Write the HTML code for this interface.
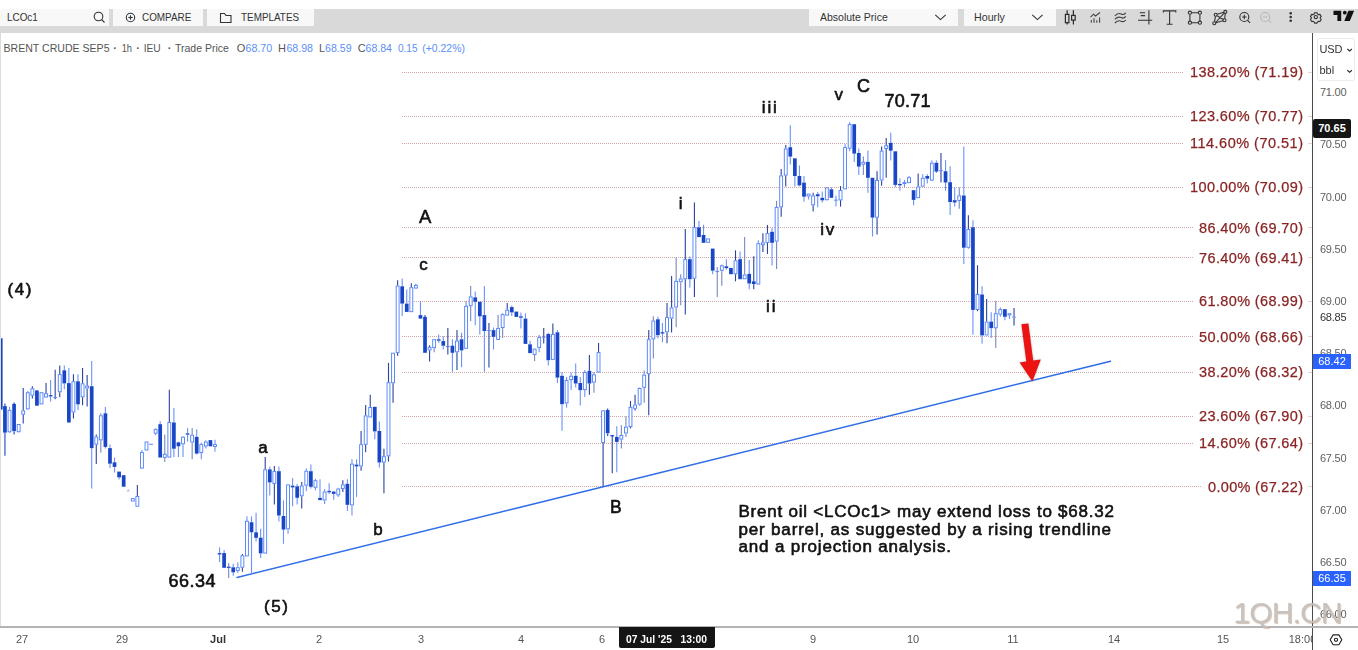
<!DOCTYPE html>
<html><head><meta charset="utf-8"><title>chart</title>
<style>
*{margin:0;padding:0;box-sizing:border-box}
html,body{width:1358px;height:650px;overflow:hidden;background:#fff;font-family:"Liberation Sans",sans-serif}
#wrap{position:relative;width:1358px;height:650px;overflow:hidden;background:#fff}
#tb{position:absolute;left:0;top:8.75px;width:1358px;height:24px;background:#d9d9d9}
.btn span{display:inline-block;transform:scaleX(0.9);transform-origin:0 50%}
.btn{position:absolute;top:0;height:17.5px;background:#f8f8f8;font-size:11px;color:#333;line-height:17px;white-space:nowrap}
#legend{position:absolute;left:3px;top:40px;font-size:11px;line-height:14px;color:#555;white-space:pre}
.lg text{font-family:"Liberation Sans",sans-serif;font-size:11px;fill:#555} .lg g text{fill:#5a8ffa}
#chart{position:absolute;left:0;top:0;will-change:transform}
.fib{font-family:"Liberation Sans",sans-serif;font-size:14.5px;fill:#8a2424;stroke:#8a2424;stroke-width:0.25px}
.lb{font-family:"Liberation Sans",sans-serif;font-weight:normal;fill:#111;stroke:#111;stroke-width:0.6px;stroke-linejoin:round}
#pax{position:absolute;left:1312px;top:33px;width:1px;height:617px;background:#4a4a4a}
#tax{position:absolute;left:0;top:626px;width:1358px;height:2px;background:#b4b4b4}
#leftb{position:absolute;left:0;top:33px;width:1px;height:594px;background:#dcdcdc}
.pl{position:absolute;left:1320px;width:30px;font-size:11px;line-height:14px;color:#606060;letter-spacing:-0.25px}
.tl{position:absolute;top:632px;width:40px;text-align:center;font-size:11px;line-height:14px;color:#555}
.tag{position:absolute;left:1313px;width:38px;color:#fff;font-weight:bold;font-size:11px;text-align:center}
#unit{position:absolute;left:1316.5px;top:37.5px;width:38px;height:43px;border:1px solid #ececec;border-radius:3px;background:#fff;font-size:11px;color:#333}
#wm{z-index:20;opacity:.9;position:absolute;left:1233.5px;top:596.5px;font-size:30px;line-height:32px;color:#c2bdb8;letter-spacing:-0.9px;text-shadow:1px 1px 1px rgba(170,130,100,.55);white-space:nowrap}
</style></head><body><div id="wrap">
<div id="tb">
 <div class="btn" style="left:0;width:109px;padding-left:7px"><span>LCOc1</span></div>
 <div class="btn" style="left:113px;width:90px;padding-left:29px"><span>COMPARE</span></div>
 <div class="btn" style="left:207px;width:107px;padding-left:34px"><span>TEMPLATES</span></div>
 <div class="btn" style="left:808.5px;width:149.5px;padding-left:11px"><span style="transform:scaleX(0.955)">Absolute Price</span></div>
 <div class="btn" style="left:963.5px;width:92.5px;padding-left:10.5px"><span style="transform:scaleX(0.97)">Hourly</span></div>
</div>
<svg id="icons" width="1358" height="34" style="position:absolute;left:0;top:0" fill="none" stroke="#333" stroke-width="1.1">
 <circle cx="98.500" cy="16.500" r="4.300"/><line x1="101.700" y1="19.700" x2="104.500" y2="22.500"/>
 <circle cx="130.500" cy="17.500" r="4.200"/><line x1="128.300" y1="17.500" x2="132.700" y2="17.500"/><line x1="130.500" y1="15.300" x2="130.500" y2="19.700"/>
 <path d="M220.500 22.500v-9h4l1.500 2h5v7z"/>
 <path d="M935.300 14.800l5.200 4.800 5.200-4.800"/>
 <path d="M1032.200 14.800l5.200 4.800 5.200-4.800"/>
 <g stroke="#2a2a2a" stroke-width="1.200">
 <rect x="1065.400" y="14.400" width="3.500" height="8.300"/><path d="M1067.150 10.300v4.100M1067.150 22.700v1.700"/>
 <rect x="1071.600" y="15.400" width="3.600" height="4.700"/><path d="M1073.400 10.300v5.100M1073.400 20.100v4.300"/>
 </g>
 <g stroke="#444" stroke-width="1.100">
 <path d="M1090.500 17.200l3-3 2 1.800 4.500-3.500"/><path d="M1091.300 20v2.700M1094 18.300v4.400M1096.800 20.200v2.500M1099.600 17.500v5.200"/>
 <path d="M1114.800 15.800c3-2.800 4.500-2.800 6.300-1.800s3 .8 4.800-1.200M1114.800 19.400c3-2.800 4.500-2.800 6.300-1.800s3 .8 4.800-1.200M1114.800 23c3-2.800 4.500-2.800 6.300-1.800s3 .8 4.800-1.200"/>
 </g>
 <g stroke="#333" stroke-width="1.100">
 <path d="M1138 20.300h14.200M1148.900 10.300v14.100M1139.800 12.700h5.300M1140.800 15.600h4.300"/>
 <path d="M1163.400 12.400v-1.500h12.400v1.500M1169.600 10.900v13.200M1166.700 24.200h5.900"/>
 <path d="M1191.600 12.700h6.600M1191.600 22.700h6.600M1189.900 14.400v6.600M1199.900 14.400v6.600"/>
 <circle cx="1189.900" cy="12.700" r="1.600"/><circle cx="1199.900" cy="12.700" r="1.600"/><circle cx="1189.900" cy="22.700" r="1.600"/><circle cx="1199.900" cy="22.700" r="1.600"/>
 <path d="M1217.300 14.300l6.400-2M1225.200 13.400l-.5 5.300M1223 20.800l-7.200 2M1214.500 21.700l1-5.400M1217 15.700l6.400 3.800M1215.700 22.500l8.600-9.600"/>
 <circle cx="1215.700" cy="14.800" r="1.500"/><circle cx="1225.300" cy="11.900" r="1.500"/><circle cx="1224.500" cy="20.300" r="1.500"/><circle cx="1214.300" cy="23.200" r="1.500"/>
 <circle cx="1244.300" cy="17" r="4.500"/><path d="M1247.600 20.300l2.500 2.600M1242.100 17h4.400M1244.300 14.800v4.400"/>
 </g>
 <g stroke="#b9b9b9" stroke-width="1.100"><circle cx="1265.200" cy="17" r="4.500"/><path d="M1268.500 20.300l2.500 2.600M1263 17h4.400"/></g>
 <g fill="#333" stroke="none"><circle cx="1290.700" cy="13.200" r="1.300"/><circle cx="1290.700" cy="17" r="1.300"/><circle cx="1290.700" cy="20.700" r="1.300"/></g>
 <g stroke="#333" stroke-width="1.300" transform="translate(1315.8 17.1) scale(0.83) translate(-1315.8 -17.1)"><circle cx="1315.800" cy="17.100" r="2"/>
 <path d="M1314.300 11.900h3l.5 1.500 1.500.8 1.500-.4 1.500 2.600-1.100 1.100v1.300l1.100 1.100-1.500 2.600-1.500-.4-1.500.8-.5 1.500h-3l-.5-1.500-1.500-.8-1.500.4-1.500-2.600 1.100-1.100v-1.300l-1.100-1.100 1.500-2.600 1.500.4 1.500-.8z" stroke-linejoin="round"/></g>
 <g fill="#111" stroke="none"><path d="M1333.500 10.700h7.700v10.200h-3.800v-5.900h-3.900z"/><circle cx="1344.800" cy="12.700" r="1.900"/><path d="M1348.400 10.700h5.700l-4.300 10.200h-5.500z"/></g>
</svg>
<svg id="legend" width="480" height="20" style="position:absolute;left:0;top:38px">
<g class="lg">
<text x="3.500" y="14" textLength="106" lengthAdjust="spacingAndGlyphs">BRENT CRUDE SEP5</text>
<text x="113.200" y="14" font-weight="bold">·</text><text x="121.700" y="14" textLength="10.300" lengthAdjust="spacingAndGlyphs">1h</text>
<text x="136.200" y="14" font-weight="bold">·</text><text x="143.700" y="14" textLength="17" lengthAdjust="spacingAndGlyphs">IEU</text>
<text x="167.700" y="14" font-weight="bold">·</text><text x="175" y="14" textLength="53.800" lengthAdjust="spacingAndGlyphs">Trade Price</text>
<text x="236.700" y="14">O</text><text x="277.900" y="14">H</text><text x="319" y="14">L</text><text x="357.700" y="14">C</text>
<g fill="#5a8ffa"><text x="245.600" y="14" textLength="26.600" lengthAdjust="spacingAndGlyphs">68.70</text>
<text x="286.400" y="14" textLength="26.600" lengthAdjust="spacingAndGlyphs">68.98</text>
<text x="325" y="14" textLength="26.600" lengthAdjust="spacingAndGlyphs">68.59</text>
<text x="365.600" y="14" textLength="26.400" lengthAdjust="spacingAndGlyphs">68.84</text>
<text x="397.900" y="14" textLength="19.600" lengthAdjust="spacingAndGlyphs">0.15</text>
<text x="422.300" y="14" textLength="42.600" lengthAdjust="spacingAndGlyphs">(+0.22%)</text></g>
</g></svg>
<svg id="chart" width="1313" height="627" viewBox="0 0 1313 627">
<line x1="402" y1="72.5" x2="1183" y2="72.5" stroke="#d6a5a5" stroke-width="1" stroke-dasharray="1 1"/>
<line x1="1308.5" y1="72.5" x2="1312" y2="72.5" stroke="#d6a5a5" stroke-width="1" stroke-dasharray="1 1"/>
<text x="1303" y="77.1" text-anchor="end" class="fib" textLength="113" lengthAdjust="spacing">138.20% (71.19)</text>
<line x1="402" y1="116.5" x2="1183" y2="116.5" stroke="#d6a5a5" stroke-width="1" stroke-dasharray="1 1"/>
<line x1="1308.5" y1="116.5" x2="1312" y2="116.5" stroke="#d6a5a5" stroke-width="1" stroke-dasharray="1 1"/>
<text x="1303" y="120.9" text-anchor="end" class="fib" textLength="113" lengthAdjust="spacing">123.60% (70.77)</text>
<line x1="402" y1="143.5" x2="1183" y2="143.5" stroke="#d6a5a5" stroke-width="1" stroke-dasharray="1 1"/>
<line x1="1308.5" y1="143.5" x2="1312" y2="143.5" stroke="#d6a5a5" stroke-width="1" stroke-dasharray="1 1"/>
<text x="1303" y="147.9" text-anchor="end" class="fib" textLength="113" lengthAdjust="spacing">114.60% (70.51)</text>
<line x1="402" y1="187.5" x2="1183" y2="187.5" stroke="#d6a5a5" stroke-width="1" stroke-dasharray="1 1"/>
<line x1="1308.5" y1="187.5" x2="1312" y2="187.5" stroke="#d6a5a5" stroke-width="1" stroke-dasharray="1 1"/>
<text x="1303" y="191.7" text-anchor="end" class="fib" textLength="113" lengthAdjust="spacing">100.00% (70.09)</text>
<line x1="402" y1="227.5" x2="1193.5" y2="227.5" stroke="#d6a5a5" stroke-width="1" stroke-dasharray="1 1"/>
<line x1="1308.5" y1="227.5" x2="1312" y2="227.5" stroke="#d6a5a5" stroke-width="1" stroke-dasharray="1 1"/>
<text x="1303" y="232.5" text-anchor="end" class="fib" textLength="104" lengthAdjust="spacing">86.40% (69.70)</text>
<line x1="402" y1="257.5" x2="1193.5" y2="257.5" stroke="#d6a5a5" stroke-width="1" stroke-dasharray="1 1"/>
<line x1="1308.5" y1="257.5" x2="1312" y2="257.5" stroke="#d6a5a5" stroke-width="1" stroke-dasharray="1 1"/>
<text x="1303" y="262.5" text-anchor="end" class="fib" textLength="104" lengthAdjust="spacing">76.40% (69.41)</text>
<line x1="402" y1="301.5" x2="1193.5" y2="301.5" stroke="#d6a5a5" stroke-width="1" stroke-dasharray="1 1"/>
<line x1="1308.5" y1="301.5" x2="1312" y2="301.5" stroke="#d6a5a5" stroke-width="1" stroke-dasharray="1 1"/>
<text x="1303" y="306.3" text-anchor="end" class="fib" textLength="104" lengthAdjust="spacing">61.80% (68.99)</text>
<line x1="402" y1="336.5" x2="1193.5" y2="336.5" stroke="#d6a5a5" stroke-width="1" stroke-dasharray="1 1"/>
<line x1="1308.5" y1="336.5" x2="1312" y2="336.5" stroke="#d6a5a5" stroke-width="1" stroke-dasharray="1 1"/>
<text x="1303" y="341.7" text-anchor="end" class="fib" textLength="104" lengthAdjust="spacing">50.00% (68.66)</text>
<line x1="402" y1="372.5" x2="1193.5" y2="372.5" stroke="#d6a5a5" stroke-width="1" stroke-dasharray="1 1"/>
<line x1="1308.5" y1="372.5" x2="1312" y2="372.5" stroke="#d6a5a5" stroke-width="1" stroke-dasharray="1 1"/>
<text x="1303" y="377.1" text-anchor="end" class="fib" textLength="104" lengthAdjust="spacing">38.20% (68.32)</text>
<line x1="402" y1="416.5" x2="1193.5" y2="416.5" stroke="#d6a5a5" stroke-width="1" stroke-dasharray="1 1"/>
<line x1="1308.5" y1="416.5" x2="1312" y2="416.5" stroke="#d6a5a5" stroke-width="1" stroke-dasharray="1 1"/>
<text x="1303" y="420.9" text-anchor="end" class="fib" textLength="104" lengthAdjust="spacing">23.60% (67.90)</text>
<line x1="402" y1="443.5" x2="1193.5" y2="443.5" stroke="#d6a5a5" stroke-width="1" stroke-dasharray="1 1"/>
<line x1="1308.5" y1="443.5" x2="1312" y2="443.5" stroke="#d6a5a5" stroke-width="1" stroke-dasharray="1 1"/>
<text x="1303" y="447.9" text-anchor="end" class="fib" textLength="104" lengthAdjust="spacing">14.60% (67.64)</text>
<line x1="402" y1="486.5" x2="1201" y2="486.5" stroke="#d6a5a5" stroke-width="1" stroke-dasharray="1 1"/>
<line x1="1308.5" y1="486.5" x2="1312" y2="486.5" stroke="#d6a5a5" stroke-width="1" stroke-dasharray="1 1"/>
<text x="1303" y="491.7" text-anchor="end" class="fib" textLength="95" lengthAdjust="spacing">0.00% (67.22)</text>
<line x1="237" y1="577.4" x2="1110.5" y2="361.2" stroke="#2f6ce9" stroke-width="1.5" stroke-linecap="round"/>
<line x1="1.8" y1="338.3" x2="1.8" y2="409.6" stroke="#1846c6" stroke-width="1.6"/>
<line x1="4.95" y1="403.4" x2="4.95" y2="406.1" stroke="#1846c6" stroke-width="1.1"/>
<line x1="4.95" y1="432.6" x2="4.95" y2="455.7" stroke="#1846c6" stroke-width="1.1"/>
<rect x="3.10" y="406.1" width="3.7" height="26.5" fill="#1846c6"/>
<line x1="9.52" y1="406.9" x2="9.52" y2="409.9" stroke="#6a92fb" stroke-width="1.1"/>
<line x1="9.52" y1="432.2" x2="9.52" y2="432.9" stroke="#6a92fb" stroke-width="1.1"/>
<rect x="8.07" y="410.3" width="2.9" height="21.5" fill="#fff" stroke="#4c7efa" stroke-width="0.9"/>
<line x1="14.08" y1="402.5" x2="14.08" y2="403.9" stroke="#1846c6" stroke-width="1.1"/>
<line x1="14.08" y1="431.2" x2="14.08" y2="434.4" stroke="#1846c6" stroke-width="1.1"/>
<rect x="12.23" y="403.9" width="3.7" height="27.2" fill="#1846c6"/>
<rect x="17.20" y="424.5" width="2.9" height="7.3" fill="#fff" stroke="#4c7efa" stroke-width="0.9"/>
<line x1="23.21" y1="388.0" x2="23.21" y2="410.5" stroke="#2a439c" stroke-width="1.1"/>
<line x1="23.21" y1="414.5" x2="23.21" y2="423.4" stroke="#2a439c" stroke-width="1.1"/>
<rect x="21.76" y="410.9" width="2.9" height="3.3" fill="#fff" stroke="#4c7efa" stroke-width="0.9"/>
<line x1="27.78" y1="391.0" x2="27.78" y2="392.3" stroke="#6a92fb" stroke-width="1.1"/>
<line x1="27.78" y1="409.2" x2="27.78" y2="409.6" stroke="#6a92fb" stroke-width="1.1"/>
<rect x="26.33" y="392.7" width="2.9" height="16.2" fill="#fff" stroke="#4c7efa" stroke-width="0.9"/>
<line x1="32.35" y1="386.2" x2="32.35" y2="388.4" stroke="#2a439c" stroke-width="1.1"/>
<line x1="32.35" y1="395.4" x2="32.35" y2="398.6" stroke="#2a439c" stroke-width="1.1"/>
<rect x="30.90" y="388.8" width="2.9" height="6.3" fill="#fff" stroke="#4c7efa" stroke-width="0.9"/>
<line x1="36.91" y1="390.1" x2="36.91" y2="390.5" stroke="#1846c6" stroke-width="1.1"/>
<rect x="35.06" y="390.5" width="3.7" height="15.2" fill="#1846c6"/>
<rect x="40.03" y="392.7" width="2.9" height="11.2" fill="#fff" stroke="#4c7efa" stroke-width="0.9"/>
<line x1="46.04" y1="383.1" x2="46.04" y2="393.3" stroke="#2a439c" stroke-width="1.1"/>
<rect x="44.59" y="393.7" width="2.9" height="3.4" fill="#fff" stroke="#4c7efa" stroke-width="0.9"/>
<line x1="50.61" y1="379.9" x2="50.61" y2="395.1" stroke="#6a92fb" stroke-width="1.1"/>
<line x1="50.61" y1="396.0" x2="50.61" y2="401.6" stroke="#6a92fb" stroke-width="1.1"/>
<rect x="48.76" y="395.1" width="3.7" height="1.3" fill="#1846c6"/>
<line x1="55.18" y1="369.8" x2="55.18" y2="397.2" stroke="#2a439c" stroke-width="1.1"/>
<line x1="55.18" y1="397.9" x2="55.18" y2="399.3" stroke="#2a439c" stroke-width="1.1"/>
<line x1="53.38" y1="397.6" x2="56.98" y2="397.6" stroke="#4c7efa" stroke-width="1"/>
<line x1="59.74" y1="365.4" x2="59.74" y2="374.2" stroke="#2a439c" stroke-width="1.1"/>
<line x1="59.74" y1="392.3" x2="59.74" y2="397.2" stroke="#2a439c" stroke-width="1.1"/>
<rect x="58.29" y="374.6" width="2.9" height="17.2" fill="#fff" stroke="#4c7efa" stroke-width="0.9"/>
<line x1="64.31" y1="365.4" x2="64.31" y2="370.3" stroke="#6a92fb" stroke-width="1.1"/>
<line x1="64.31" y1="383.4" x2="64.31" y2="389.3" stroke="#6a92fb" stroke-width="1.1"/>
<rect x="62.46" y="370.3" width="3.7" height="13.1" fill="#1846c6"/>
<line x1="68.87" y1="368.0" x2="68.87" y2="383.1" stroke="#6a92fb" stroke-width="1.1"/>
<rect x="67.02" y="383.1" width="3.7" height="39.4" fill="#1846c6"/>
<line x1="73.44" y1="374.2" x2="73.44" y2="381.3" stroke="#2a439c" stroke-width="1.1"/>
<line x1="73.44" y1="412.4" x2="73.44" y2="418.4" stroke="#2a439c" stroke-width="1.1"/>
<rect x="71.99" y="381.7" width="2.9" height="30.3" fill="#fff" stroke="#4c7efa" stroke-width="0.9"/>
<line x1="78.01" y1="374.2" x2="78.01" y2="381.3" stroke="#6a92fb" stroke-width="1.1"/>
<line x1="78.01" y1="404.3" x2="78.01" y2="409.9" stroke="#6a92fb" stroke-width="1.1"/>
<rect x="76.16" y="381.3" width="3.7" height="23.0" fill="#1846c6"/>
<line x1="82.57" y1="368.0" x2="82.57" y2="383.4" stroke="#2a439c" stroke-width="1.1"/>
<line x1="82.57" y1="397.2" x2="82.57" y2="405.2" stroke="#2a439c" stroke-width="1.1"/>
<rect x="81.12" y="383.8" width="2.9" height="13.0" fill="#fff" stroke="#4c7efa" stroke-width="0.9"/>
<line x1="87.14" y1="375.1" x2="87.14" y2="385.7" stroke="#2a439c" stroke-width="1.1"/>
<line x1="87.14" y1="388.4" x2="87.14" y2="406.4" stroke="#2a439c" stroke-width="1.1"/>
<rect x="85.69" y="386.1" width="2.9" height="1.9" fill="#fff" stroke="#4c7efa" stroke-width="0.9"/>
<line x1="91.70" y1="361.0" x2="91.70" y2="386.2" stroke="#6a92fb" stroke-width="1.1"/>
<line x1="91.70" y1="448.1" x2="91.70" y2="488.4" stroke="#6a92fb" stroke-width="1.1"/>
<rect x="89.85" y="386.2" width="3.7" height="61.9" fill="#1846c6"/>
<line x1="96.27" y1="434.5" x2="96.27" y2="436.6" stroke="#2a439c" stroke-width="1.1"/>
<line x1="96.27" y1="444.6" x2="96.27" y2="464.0" stroke="#2a439c" stroke-width="1.1"/>
<rect x="94.82" y="437.0" width="2.9" height="7.2" fill="#fff" stroke="#4c7efa" stroke-width="0.9"/>
<line x1="100.84" y1="413.3" x2="100.84" y2="415.4" stroke="#7787bd" stroke-width="1.1"/>
<line x1="100.84" y1="440.3" x2="100.84" y2="452.7" stroke="#7787bd" stroke-width="1.1"/>
<rect x="99.39" y="415.8" width="2.9" height="24.1" fill="#fff" stroke="#4c7efa" stroke-width="0.9"/>
<line x1="105.40" y1="407.1" x2="105.40" y2="413.3" stroke="#6a92fb" stroke-width="1.1"/>
<line x1="105.40" y1="446.9" x2="105.40" y2="448.6" stroke="#6a92fb" stroke-width="1.1"/>
<rect x="103.55" y="413.3" width="3.7" height="33.6" fill="#1846c6"/>
<line x1="109.97" y1="444.6" x2="109.97" y2="448.1" stroke="#6a92fb" stroke-width="1.1"/>
<line x1="109.97" y1="463.7" x2="109.97" y2="468.1" stroke="#6a92fb" stroke-width="1.1"/>
<rect x="108.12" y="448.1" width="3.7" height="15.6" fill="#1846c6"/>
<line x1="114.53" y1="457.5" x2="114.53" y2="462.3" stroke="#6a92fb" stroke-width="1.1"/>
<line x1="114.53" y1="466.9" x2="114.53" y2="472.5" stroke="#6a92fb" stroke-width="1.1"/>
<rect x="112.68" y="462.3" width="3.7" height="4.6" fill="#1846c6"/>
<line x1="119.10" y1="477.5" x2="119.10" y2="479.6" stroke="#6a92fb" stroke-width="1.1"/>
<rect x="117.25" y="471.6" width="3.7" height="5.8" fill="#1846c6"/>
<rect x="121.82" y="475.2" width="3.7" height="11.5" fill="#1846c6"/>
<rect x="131.35" y="498.6" width="2.9" height="2.4" fill="#fff" stroke="#4c7efa" stroke-width="0.9"/>
<line x1="137.36" y1="484.9" x2="137.36" y2="496.0" stroke="#2a439c" stroke-width="1.1"/>
<rect x="135.91" y="496.4" width="2.9" height="9.8" fill="#fff" stroke="#4c7efa" stroke-width="0.9"/>
<line x1="141.93" y1="450.1" x2="141.93" y2="452.2" stroke="#6a92fb" stroke-width="1.1"/>
<rect x="140.48" y="452.6" width="2.9" height="15.5" fill="#fff" stroke="#4c7efa" stroke-width="0.9"/>
<rect x="145.05" y="442.0" width="2.9" height="8.0" fill="#fff" stroke="#4c7efa" stroke-width="0.9"/>
<line x1="149.26" y1="444.3" x2="152.86" y2="444.3" stroke="#4c7efa" stroke-width="1"/>
<line x1="155.63" y1="428.3" x2="155.63" y2="429.2" stroke="#6a92fb" stroke-width="1.1"/>
<line x1="155.63" y1="433.6" x2="155.63" y2="435.0" stroke="#6a92fb" stroke-width="1.1"/>
<rect x="154.18" y="429.6" width="2.9" height="3.6" fill="#fff" stroke="#4c7efa" stroke-width="0.9"/>
<line x1="160.19" y1="421.2" x2="160.19" y2="424.2" stroke="#6a92fb" stroke-width="1.1"/>
<rect x="158.34" y="424.2" width="3.7" height="33.3" fill="#1846c6"/>
<line x1="164.76" y1="434.5" x2="164.76" y2="453.9" stroke="#7787bd" stroke-width="1.1"/>
<line x1="164.76" y1="457.8" x2="164.76" y2="461.9" stroke="#7787bd" stroke-width="1.1"/>
<rect x="163.31" y="454.3" width="2.9" height="3.1" fill="#fff" stroke="#4c7efa" stroke-width="0.9"/>
<line x1="169.33" y1="389.8" x2="169.33" y2="422.1" stroke="#2a439c" stroke-width="1.1"/>
<rect x="167.88" y="422.5" width="2.9" height="34.6" fill="#fff" stroke="#4c7efa" stroke-width="0.9"/>
<line x1="173.89" y1="408.0" x2="173.89" y2="422.5" stroke="#6a92fb" stroke-width="1.1"/>
<line x1="173.89" y1="448.6" x2="173.89" y2="457.0" stroke="#6a92fb" stroke-width="1.1"/>
<rect x="172.04" y="422.5" width="3.7" height="26.2" fill="#1846c6"/>
<line x1="178.46" y1="441.6" x2="178.46" y2="442.4" stroke="#6a92fb" stroke-width="1.1"/>
<line x1="178.46" y1="446.3" x2="178.46" y2="457.0" stroke="#6a92fb" stroke-width="1.1"/>
<rect x="176.61" y="442.4" width="3.7" height="3.9" fill="#1846c6"/>
<line x1="183.02" y1="436.3" x2="183.02" y2="436.8" stroke="#6a92fb" stroke-width="1.1"/>
<line x1="183.02" y1="444.2" x2="183.02" y2="457.0" stroke="#6a92fb" stroke-width="1.1"/>
<rect x="181.57" y="437.2" width="2.9" height="6.6" fill="#fff" stroke="#4c7efa" stroke-width="0.9"/>
<line x1="187.59" y1="427.9" x2="187.59" y2="433.3" stroke="#6a92fb" stroke-width="1.1"/>
<line x1="187.59" y1="434.5" x2="187.59" y2="441.6" stroke="#6a92fb" stroke-width="1.1"/>
<rect x="185.74" y="433.3" width="3.7" height="1.3" fill="#1846c6"/>
<line x1="192.16" y1="427.9" x2="192.16" y2="434.8" stroke="#7787bd" stroke-width="1.1"/>
<line x1="192.16" y1="442.4" x2="192.16" y2="459.3" stroke="#7787bd" stroke-width="1.1"/>
<rect x="190.71" y="435.2" width="2.9" height="6.8" fill="#fff" stroke="#4c7efa" stroke-width="0.9"/>
<line x1="196.72" y1="429.2" x2="196.72" y2="436.8" stroke="#6a92fb" stroke-width="1.1"/>
<line x1="196.72" y1="453.6" x2="196.72" y2="454.5" stroke="#6a92fb" stroke-width="1.1"/>
<rect x="194.87" y="436.8" width="3.7" height="16.8" fill="#1846c6"/>
<line x1="201.29" y1="442.4" x2="201.29" y2="444.2" stroke="#6a92fb" stroke-width="1.1"/>
<line x1="201.29" y1="453.1" x2="201.29" y2="459.3" stroke="#6a92fb" stroke-width="1.1"/>
<rect x="199.84" y="444.6" width="2.9" height="8.0" fill="#fff" stroke="#4c7efa" stroke-width="0.9"/>
<line x1="205.85" y1="440.3" x2="205.85" y2="441.6" stroke="#6a92fb" stroke-width="1.1"/>
<line x1="205.85" y1="446.3" x2="205.85" y2="448.6" stroke="#6a92fb" stroke-width="1.1"/>
<rect x="204.40" y="442.0" width="2.9" height="4.0" fill="#fff" stroke="#4c7efa" stroke-width="0.9"/>
<rect x="208.57" y="440.1" width="3.7" height="6.2" fill="#1846c6"/>
<line x1="214.99" y1="439.8" x2="214.99" y2="444.2" stroke="#6a92fb" stroke-width="1.1"/>
<line x1="214.99" y1="446.9" x2="214.99" y2="451.8" stroke="#6a92fb" stroke-width="1.1"/>
<rect x="213.54" y="444.6" width="2.9" height="1.9" fill="#fff" stroke="#4c7efa" stroke-width="0.9"/>
<line x1="219.55" y1="547.5" x2="219.55" y2="553.1" stroke="#6a92fb" stroke-width="1.1"/>
<line x1="219.55" y1="554.5" x2="219.55" y2="562.0" stroke="#6a92fb" stroke-width="1.1"/>
<rect x="217.70" y="553.1" width="3.7" height="1.4" fill="#1846c6"/>
<line x1="224.12" y1="549.9" x2="224.12" y2="553.1" stroke="#6a92fb" stroke-width="1.1"/>
<rect x="222.27" y="553.1" width="3.7" height="14.7" fill="#1846c6"/>
<line x1="228.68" y1="562.9" x2="228.68" y2="566.6" stroke="#7787bd" stroke-width="1.1"/>
<line x1="228.68" y1="567.3" x2="228.68" y2="577.9" stroke="#7787bd" stroke-width="1.1"/>
<rect x="226.83" y="566.6" width="3.7" height="1.3" fill="#1846c6"/>
<line x1="233.25" y1="563.7" x2="233.25" y2="567.3" stroke="#6a92fb" stroke-width="1.1"/>
<line x1="233.25" y1="572.2" x2="233.25" y2="575.8" stroke="#6a92fb" stroke-width="1.1"/>
<rect x="231.40" y="567.3" width="3.7" height="5.0" fill="#1846c6"/>
<line x1="237.82" y1="562.3" x2="237.82" y2="567.3" stroke="#6a92fb" stroke-width="1.1"/>
<line x1="237.82" y1="570.8" x2="237.82" y2="572.9" stroke="#6a92fb" stroke-width="1.1"/>
<rect x="236.37" y="567.7" width="2.9" height="2.7" fill="#fff" stroke="#4c7efa" stroke-width="0.9"/>
<line x1="242.38" y1="554.0" x2="242.38" y2="555.4" stroke="#2a439c" stroke-width="1.1"/>
<line x1="242.38" y1="567.6" x2="242.38" y2="571.7" stroke="#2a439c" stroke-width="1.1"/>
<rect x="240.93" y="555.8" width="2.9" height="11.4" fill="#fff" stroke="#4c7efa" stroke-width="0.9"/>
<line x1="246.95" y1="516.3" x2="246.95" y2="520.9" stroke="#6a92fb" stroke-width="1.1"/>
<rect x="245.50" y="521.3" width="2.9" height="34.6" fill="#fff" stroke="#4c7efa" stroke-width="0.9"/>
<line x1="251.51" y1="516.3" x2="251.51" y2="522.2" stroke="#6a92fb" stroke-width="1.1"/>
<line x1="251.51" y1="532.3" x2="251.51" y2="574.4" stroke="#6a92fb" stroke-width="1.1"/>
<rect x="249.66" y="522.2" width="3.7" height="10.1" fill="#1846c6"/>
<line x1="256.08" y1="512.8" x2="256.08" y2="532.3" stroke="#6a92fb" stroke-width="1.1"/>
<line x1="256.08" y1="537.7" x2="256.08" y2="541.6" stroke="#6a92fb" stroke-width="1.1"/>
<rect x="254.23" y="532.3" width="3.7" height="5.5" fill="#1846c6"/>
<line x1="260.65" y1="528.7" x2="260.65" y2="537.7" stroke="#6a92fb" stroke-width="1.1"/>
<line x1="260.65" y1="553.5" x2="260.65" y2="557.9" stroke="#6a92fb" stroke-width="1.1"/>
<rect x="258.80" y="537.7" width="3.7" height="15.7" fill="#1846c6"/>
<line x1="265.21" y1="457.0" x2="265.21" y2="469.4" stroke="#2a439c" stroke-width="1.1"/>
<rect x="263.76" y="469.8" width="2.9" height="83.3" fill="#fff" stroke="#4c7efa" stroke-width="0.9"/>
<line x1="269.78" y1="466.4" x2="269.78" y2="469.4" stroke="#6a92fb" stroke-width="1.1"/>
<line x1="269.78" y1="482.4" x2="269.78" y2="495.6" stroke="#6a92fb" stroke-width="1.1"/>
<rect x="267.93" y="469.4" width="3.7" height="13.0" fill="#1846c6"/>
<line x1="274.34" y1="465.9" x2="274.34" y2="471.2" stroke="#2a439c" stroke-width="1.1"/>
<line x1="274.34" y1="483.8" x2="274.34" y2="504.5" stroke="#2a439c" stroke-width="1.1"/>
<rect x="272.89" y="471.6" width="2.9" height="11.8" fill="#fff" stroke="#4c7efa" stroke-width="0.9"/>
<line x1="278.91" y1="466.4" x2="278.91" y2="471.2" stroke="#6a92fb" stroke-width="1.1"/>
<line x1="278.91" y1="515.5" x2="278.91" y2="521.6" stroke="#6a92fb" stroke-width="1.1"/>
<rect x="277.06" y="471.2" width="3.7" height="44.3" fill="#1846c6"/>
<line x1="283.48" y1="500.4" x2="283.48" y2="516.0" stroke="#6a92fb" stroke-width="1.1"/>
<line x1="283.48" y1="529.6" x2="283.48" y2="543.8" stroke="#6a92fb" stroke-width="1.1"/>
<rect x="281.63" y="516.0" width="3.7" height="13.6" fill="#1846c6"/>
<line x1="288.04" y1="529.3" x2="288.04" y2="533.7" stroke="#6a92fb" stroke-width="1.1"/>
<rect x="286.59" y="484.9" width="2.9" height="43.9" fill="#fff" stroke="#4c7efa" stroke-width="0.9"/>
<line x1="292.61" y1="478.0" x2="292.61" y2="485.6" stroke="#6a92fb" stroke-width="1.1"/>
<line x1="292.61" y1="487.3" x2="292.61" y2="506.3" stroke="#6a92fb" stroke-width="1.1"/>
<rect x="290.76" y="485.6" width="3.7" height="1.8" fill="#1846c6"/>
<line x1="297.17" y1="484.1" x2="297.17" y2="486.3" stroke="#6a92fb" stroke-width="1.1"/>
<line x1="297.17" y1="497.8" x2="297.17" y2="504.5" stroke="#6a92fb" stroke-width="1.1"/>
<rect x="295.32" y="486.3" width="3.7" height="11.5" fill="#1846c6"/>
<line x1="301.74" y1="482.0" x2="301.74" y2="485.6" stroke="#2a439c" stroke-width="1.1"/>
<line x1="301.74" y1="496.2" x2="301.74" y2="508.4" stroke="#2a439c" stroke-width="1.1"/>
<rect x="300.29" y="486.0" width="2.9" height="9.8" fill="#fff" stroke="#4c7efa" stroke-width="0.9"/>
<line x1="306.31" y1="468.2" x2="306.31" y2="470.8" stroke="#6a92fb" stroke-width="1.1"/>
<line x1="306.31" y1="485.6" x2="306.31" y2="491.2" stroke="#6a92fb" stroke-width="1.1"/>
<rect x="304.86" y="471.2" width="2.9" height="14.0" fill="#fff" stroke="#4c7efa" stroke-width="0.9"/>
<line x1="310.87" y1="464.6" x2="310.87" y2="471.2" stroke="#6a92fb" stroke-width="1.1"/>
<line x1="310.87" y1="486.8" x2="310.87" y2="488.6" stroke="#6a92fb" stroke-width="1.1"/>
<rect x="309.02" y="471.2" width="3.7" height="15.6" fill="#1846c6"/>
<line x1="315.44" y1="478.8" x2="315.44" y2="480.3" stroke="#6a92fb" stroke-width="1.1"/>
<line x1="315.44" y1="487.7" x2="315.44" y2="490.3" stroke="#6a92fb" stroke-width="1.1"/>
<rect x="313.99" y="480.7" width="2.9" height="6.6" fill="#fff" stroke="#4c7efa" stroke-width="0.9"/>
<line x1="320.00" y1="479.2" x2="320.00" y2="497.9" stroke="#6a92fb" stroke-width="1.1"/>
<line x1="320.00" y1="500.1" x2="320.00" y2="500.4" stroke="#6a92fb" stroke-width="1.1"/>
<rect x="318.15" y="497.9" width="3.7" height="2.1" fill="#1846c6"/>
<line x1="324.57" y1="489.1" x2="324.57" y2="491.6" stroke="#6a92fb" stroke-width="1.1"/>
<line x1="324.57" y1="500.4" x2="324.57" y2="504.0" stroke="#6a92fb" stroke-width="1.1"/>
<rect x="323.12" y="492.0" width="2.9" height="8.0" fill="#fff" stroke="#4c7efa" stroke-width="0.9"/>
<line x1="329.14" y1="483.3" x2="329.14" y2="490.9" stroke="#6a92fb" stroke-width="1.1"/>
<line x1="329.14" y1="492.1" x2="329.14" y2="493.9" stroke="#6a92fb" stroke-width="1.1"/>
<rect x="327.29" y="490.9" width="3.7" height="1.3" fill="#1846c6"/>
<line x1="333.70" y1="490.9" x2="333.70" y2="491.6" stroke="#6a92fb" stroke-width="1.1"/>
<line x1="333.70" y1="493.9" x2="333.70" y2="499.7" stroke="#6a92fb" stroke-width="1.1"/>
<rect x="331.85" y="491.6" width="3.7" height="2.3" fill="#1846c6"/>
<line x1="338.27" y1="487.7" x2="338.27" y2="488.6" stroke="#6a92fb" stroke-width="1.1"/>
<line x1="338.27" y1="495.3" x2="338.27" y2="496.9" stroke="#6a92fb" stroke-width="1.1"/>
<rect x="336.82" y="489.0" width="2.9" height="5.9" fill="#fff" stroke="#4c7efa" stroke-width="0.9"/>
<line x1="342.83" y1="480.3" x2="342.83" y2="484.5" stroke="#2a439c" stroke-width="1.1"/>
<line x1="342.83" y1="488.9" x2="342.83" y2="492.1" stroke="#2a439c" stroke-width="1.1"/>
<rect x="341.38" y="484.9" width="2.9" height="3.6" fill="#fff" stroke="#4c7efa" stroke-width="0.9"/>
<line x1="347.40" y1="479.2" x2="347.40" y2="483.8" stroke="#6a92fb" stroke-width="1.1"/>
<line x1="347.40" y1="504.8" x2="347.40" y2="511.0" stroke="#6a92fb" stroke-width="1.1"/>
<rect x="345.55" y="483.8" width="3.7" height="21.0" fill="#1846c6"/>
<line x1="351.97" y1="459.3" x2="351.97" y2="463.7" stroke="#6a92fb" stroke-width="1.1"/>
<line x1="351.97" y1="505.4" x2="351.97" y2="515.6" stroke="#6a92fb" stroke-width="1.1"/>
<rect x="350.52" y="464.1" width="2.9" height="40.8" fill="#fff" stroke="#4c7efa" stroke-width="0.9"/>
<line x1="356.53" y1="459.3" x2="356.53" y2="464.6" stroke="#6a92fb" stroke-width="1.1"/>
<line x1="356.53" y1="466.4" x2="356.53" y2="496.9" stroke="#6a92fb" stroke-width="1.1"/>
<rect x="354.68" y="464.6" width="3.7" height="1.8" fill="#1846c6"/>
<line x1="361.10" y1="431.0" x2="361.10" y2="444.3" stroke="#2a439c" stroke-width="1.1"/>
<line x1="361.10" y1="466.4" x2="361.10" y2="470.8" stroke="#2a439c" stroke-width="1.1"/>
<rect x="359.65" y="444.7" width="2.9" height="21.3" fill="#fff" stroke="#4c7efa" stroke-width="0.9"/>
<line x1="365.66" y1="405.0" x2="365.66" y2="415.5" stroke="#2a439c" stroke-width="1.1"/>
<line x1="365.66" y1="444.6" x2="365.66" y2="452.2" stroke="#2a439c" stroke-width="1.1"/>
<rect x="364.21" y="415.9" width="2.9" height="28.4" fill="#fff" stroke="#4c7efa" stroke-width="0.9"/>
<line x1="370.23" y1="394.8" x2="370.23" y2="407.1" stroke="#2a439c" stroke-width="1.1"/>
<rect x="368.78" y="407.5" width="2.9" height="9.5" fill="#fff" stroke="#4c7efa" stroke-width="0.9"/>
<line x1="374.80" y1="431.4" x2="374.80" y2="439.3" stroke="#6a92fb" stroke-width="1.1"/>
<rect x="372.95" y="406.8" width="3.7" height="24.6" fill="#1846c6"/>
<line x1="379.36" y1="421.6" x2="379.36" y2="431.0" stroke="#6a92fb" stroke-width="1.1"/>
<line x1="379.36" y1="462.5" x2="379.36" y2="467.6" stroke="#6a92fb" stroke-width="1.1"/>
<rect x="377.51" y="431.0" width="3.7" height="31.5" fill="#1846c6"/>
<line x1="383.93" y1="448.7" x2="383.93" y2="456.3" stroke="#2a439c" stroke-width="1.1"/>
<line x1="383.93" y1="462.5" x2="383.93" y2="493.3" stroke="#2a439c" stroke-width="1.1"/>
<rect x="382.48" y="456.7" width="2.9" height="5.4" fill="#fff" stroke="#4c7efa" stroke-width="0.9"/>
<line x1="388.49" y1="362.9" x2="388.49" y2="382.3" stroke="#2a439c" stroke-width="1.1"/>
<line x1="388.49" y1="456.3" x2="388.49" y2="461.6" stroke="#2a439c" stroke-width="1.1"/>
<rect x="387.04" y="382.7" width="2.9" height="73.2" fill="#fff" stroke="#4c7efa" stroke-width="0.9"/>
<line x1="393.06" y1="383.2" x2="393.06" y2="402.7" stroke="#2a439c" stroke-width="1.1"/>
<rect x="391.61" y="353.2" width="2.9" height="29.6" fill="#fff" stroke="#4c7efa" stroke-width="0.9"/>
<line x1="397.63" y1="280.3" x2="397.63" y2="285.6" stroke="#2a439c" stroke-width="1.1"/>
<line x1="397.63" y1="352.8" x2="397.63" y2="355.8" stroke="#2a439c" stroke-width="1.1"/>
<rect x="396.18" y="286.0" width="2.9" height="66.4" fill="#fff" stroke="#4c7efa" stroke-width="0.9"/>
<line x1="402.19" y1="278.5" x2="402.19" y2="286.3" stroke="#6a92fb" stroke-width="1.1"/>
<line x1="402.19" y1="303.6" x2="402.19" y2="316.0" stroke="#6a92fb" stroke-width="1.1"/>
<rect x="400.34" y="286.3" width="3.7" height="17.3" fill="#1846c6"/>
<line x1="406.76" y1="289.5" x2="406.76" y2="303.6" stroke="#6a92fb" stroke-width="1.1"/>
<rect x="404.91" y="303.6" width="3.7" height="8.3" fill="#1846c6"/>
<line x1="411.32" y1="283.3" x2="411.32" y2="287.3" stroke="#2a439c" stroke-width="1.1"/>
<rect x="409.87" y="287.7" width="2.9" height="24.0" fill="#fff" stroke="#4c7efa" stroke-width="0.9"/>
<line x1="415.89" y1="283.8" x2="415.89" y2="285.0" stroke="#6a92fb" stroke-width="1.1"/>
<rect x="414.44" y="285.4" width="2.9" height="2.7" fill="#fff" stroke="#4c7efa" stroke-width="0.9"/>
<line x1="420.46" y1="301.0" x2="420.46" y2="315.1" stroke="#6a92fb" stroke-width="1.1"/>
<rect x="418.61" y="315.1" width="3.7" height="3.5" fill="#1846c6"/>
<line x1="425.02" y1="315.1" x2="425.02" y2="316.9" stroke="#1846c6" stroke-width="1.1"/>
<rect x="423.17" y="316.9" width="3.7" height="35.9" fill="#1846c6"/>
<line x1="429.59" y1="345.2" x2="429.59" y2="346.9" stroke="#2a439c" stroke-width="1.1"/>
<line x1="429.59" y1="350.5" x2="429.59" y2="361.6" stroke="#2a439c" stroke-width="1.1"/>
<rect x="428.14" y="347.3" width="2.9" height="2.7" fill="#fff" stroke="#4c7efa" stroke-width="0.9"/>
<line x1="434.15" y1="348.2" x2="434.15" y2="352.2" stroke="#7787bd" stroke-width="1.1"/>
<rect x="432.70" y="339.7" width="2.9" height="8.0" fill="#fff" stroke="#4c7efa" stroke-width="0.9"/>
<line x1="438.72" y1="334.6" x2="438.72" y2="339.3" stroke="#6a92fb" stroke-width="1.1"/>
<line x1="438.72" y1="340.7" x2="438.72" y2="342.9" stroke="#6a92fb" stroke-width="1.1"/>
<rect x="436.87" y="339.3" width="3.7" height="1.4" fill="#1846c6"/>
<line x1="443.29" y1="336.3" x2="443.29" y2="341.1" stroke="#6a92fb" stroke-width="1.1"/>
<line x1="443.29" y1="345.7" x2="443.29" y2="349.6" stroke="#6a92fb" stroke-width="1.1"/>
<rect x="441.44" y="341.1" width="3.7" height="4.6" fill="#1846c6"/>
<line x1="447.85" y1="328.0" x2="447.85" y2="346.1" stroke="#2a439c" stroke-width="1.1"/>
<line x1="447.85" y1="346.9" x2="447.85" y2="354.5" stroke="#2a439c" stroke-width="1.1"/>
<line x1="446.05" y1="346.5" x2="449.65" y2="346.5" stroke="#4c7efa" stroke-width="1"/>
<line x1="452.42" y1="339.3" x2="452.42" y2="345.7" stroke="#6a92fb" stroke-width="1.1"/>
<line x1="452.42" y1="352.8" x2="452.42" y2="371.7" stroke="#6a92fb" stroke-width="1.1"/>
<rect x="450.57" y="345.7" width="3.7" height="7.1" fill="#1846c6"/>
<line x1="456.98" y1="330.1" x2="456.98" y2="340.7" stroke="#2a439c" stroke-width="1.1"/>
<line x1="456.98" y1="352.2" x2="456.98" y2="369.9" stroke="#2a439c" stroke-width="1.1"/>
<rect x="455.53" y="341.1" width="2.9" height="10.7" fill="#fff" stroke="#4c7efa" stroke-width="0.9"/>
<line x1="461.55" y1="332.8" x2="461.55" y2="339.3" stroke="#6a92fb" stroke-width="1.1"/>
<line x1="461.55" y1="350.5" x2="461.55" y2="367.3" stroke="#6a92fb" stroke-width="1.1"/>
<rect x="459.70" y="339.3" width="3.7" height="11.1" fill="#1846c6"/>
<line x1="466.12" y1="301.0" x2="466.12" y2="305.9" stroke="#7787bd" stroke-width="1.1"/>
<rect x="464.67" y="306.3" width="2.9" height="42.0" fill="#fff" stroke="#4c7efa" stroke-width="0.9"/>
<line x1="470.68" y1="285.9" x2="470.68" y2="296.5" stroke="#7787bd" stroke-width="1.1"/>
<line x1="470.68" y1="306.3" x2="470.68" y2="320.9" stroke="#7787bd" stroke-width="1.1"/>
<rect x="469.23" y="296.9" width="2.9" height="8.9" fill="#fff" stroke="#4c7efa" stroke-width="0.9"/>
<line x1="475.25" y1="291.6" x2="475.25" y2="297.4" stroke="#6a92fb" stroke-width="1.1"/>
<line x1="475.25" y1="301.8" x2="475.25" y2="325.2" stroke="#6a92fb" stroke-width="1.1"/>
<rect x="473.40" y="297.4" width="3.7" height="4.4" fill="#1846c6"/>
<line x1="479.81" y1="316.3" x2="479.81" y2="334.6" stroke="#6a92fb" stroke-width="1.1"/>
<rect x="477.96" y="301.8" width="3.7" height="14.5" fill="#1846c6"/>
<line x1="484.38" y1="285.9" x2="484.38" y2="315.1" stroke="#6a92fb" stroke-width="1.1"/>
<line x1="484.38" y1="331.0" x2="484.38" y2="371.7" stroke="#6a92fb" stroke-width="1.1"/>
<rect x="482.53" y="315.1" width="3.7" height="15.9" fill="#1846c6"/>
<line x1="488.95" y1="323.1" x2="488.95" y2="330.1" stroke="#2a439c" stroke-width="1.1"/>
<line x1="488.95" y1="331.0" x2="488.95" y2="367.6" stroke="#2a439c" stroke-width="1.1"/>
<line x1="487.15" y1="330.6" x2="490.75" y2="330.6" stroke="#4c7efa" stroke-width="1"/>
<line x1="493.51" y1="327.5" x2="493.51" y2="330.1" stroke="#6a92fb" stroke-width="1.1"/>
<line x1="493.51" y1="336.9" x2="493.51" y2="349.6" stroke="#6a92fb" stroke-width="1.1"/>
<rect x="491.66" y="330.1" width="3.7" height="6.7" fill="#1846c6"/>
<line x1="498.08" y1="315.1" x2="498.08" y2="328.0" stroke="#7787bd" stroke-width="1.1"/>
<rect x="496.63" y="328.4" width="2.9" height="11.1" fill="#fff" stroke="#4c7efa" stroke-width="0.9"/>
<line x1="502.64" y1="313.3" x2="502.64" y2="314.2" stroke="#7787bd" stroke-width="1.1"/>
<line x1="502.64" y1="328.0" x2="502.64" y2="338.1" stroke="#7787bd" stroke-width="1.1"/>
<rect x="501.19" y="314.6" width="2.9" height="13.0" fill="#fff" stroke="#4c7efa" stroke-width="0.9"/>
<line x1="507.21" y1="303.1" x2="507.21" y2="309.8" stroke="#2a439c" stroke-width="1.1"/>
<rect x="505.76" y="310.2" width="2.9" height="4.9" fill="#fff" stroke="#4c7efa" stroke-width="0.9"/>
<line x1="511.78" y1="305.4" x2="511.78" y2="307.1" stroke="#6a92fb" stroke-width="1.1"/>
<line x1="511.78" y1="312.4" x2="511.78" y2="316.0" stroke="#6a92fb" stroke-width="1.1"/>
<rect x="509.93" y="307.1" width="3.7" height="5.3" fill="#1846c6"/>
<rect x="514.49" y="311.6" width="3.7" height="5.3" fill="#1846c6"/>
<line x1="520.91" y1="312.4" x2="520.91" y2="316.3" stroke="#6a92fb" stroke-width="1.1"/>
<line x1="520.91" y1="317.8" x2="520.91" y2="328.4" stroke="#6a92fb" stroke-width="1.1"/>
<rect x="519.06" y="316.3" width="3.7" height="1.4" fill="#1846c6"/>
<line x1="525.47" y1="313.3" x2="525.47" y2="318.6" stroke="#6a92fb" stroke-width="1.1"/>
<rect x="523.62" y="318.6" width="3.7" height="25.3" fill="#1846c6"/>
<line x1="530.04" y1="340.7" x2="530.04" y2="344.3" stroke="#6a92fb" stroke-width="1.1"/>
<rect x="528.19" y="344.3" width="3.7" height="8.8" fill="#1846c6"/>
<line x1="534.61" y1="354.9" x2="534.61" y2="361.1" stroke="#7787bd" stroke-width="1.1"/>
<rect x="533.16" y="349.1" width="2.9" height="5.4" fill="#fff" stroke="#4c7efa" stroke-width="0.9"/>
<line x1="539.17" y1="335.1" x2="539.17" y2="337.2" stroke="#6a92fb" stroke-width="1.1"/>
<line x1="539.17" y1="347.8" x2="539.17" y2="352.2" stroke="#6a92fb" stroke-width="1.1"/>
<rect x="537.72" y="337.6" width="2.9" height="9.8" fill="#fff" stroke="#4c7efa" stroke-width="0.9"/>
<line x1="543.74" y1="328.0" x2="543.74" y2="336.9" stroke="#2a439c" stroke-width="1.1"/>
<line x1="543.74" y1="337.6" x2="543.74" y2="343.4" stroke="#2a439c" stroke-width="1.1"/>
<line x1="541.94" y1="337.2" x2="545.54" y2="337.2" stroke="#4c7efa" stroke-width="1"/>
<line x1="548.30" y1="332.8" x2="548.30" y2="334.0" stroke="#6a92fb" stroke-width="1.1"/>
<line x1="548.30" y1="360.2" x2="548.30" y2="365.5" stroke="#6a92fb" stroke-width="1.1"/>
<rect x="546.45" y="334.0" width="3.7" height="26.2" fill="#1846c6"/>
<line x1="552.87" y1="323.4" x2="552.87" y2="334.0" stroke="#2a439c" stroke-width="1.1"/>
<rect x="551.42" y="334.4" width="2.9" height="25.0" fill="#fff" stroke="#4c7efa" stroke-width="0.9"/>
<line x1="557.44" y1="330.1" x2="557.44" y2="332.3" stroke="#6a92fb" stroke-width="1.1"/>
<line x1="557.44" y1="377.5" x2="557.44" y2="383.0" stroke="#6a92fb" stroke-width="1.1"/>
<rect x="555.59" y="332.3" width="3.7" height="45.3" fill="#1846c6"/>
<line x1="562.00" y1="372.2" x2="562.00" y2="375.8" stroke="#6a92fb" stroke-width="1.1"/>
<line x1="562.00" y1="404.2" x2="562.00" y2="430.7" stroke="#6a92fb" stroke-width="1.1"/>
<rect x="560.15" y="375.8" width="3.7" height="28.4" fill="#1846c6"/>
<line x1="566.57" y1="377.1" x2="566.57" y2="380.0" stroke="#6a92fb" stroke-width="1.1"/>
<line x1="566.57" y1="403.3" x2="566.57" y2="407.7" stroke="#6a92fb" stroke-width="1.1"/>
<rect x="565.12" y="380.4" width="2.9" height="22.5" fill="#fff" stroke="#4c7efa" stroke-width="0.9"/>
<line x1="571.13" y1="372.6" x2="571.13" y2="375.8" stroke="#6a92fb" stroke-width="1.1"/>
<line x1="571.13" y1="380.0" x2="571.13" y2="390.0" stroke="#6a92fb" stroke-width="1.1"/>
<rect x="569.68" y="376.2" width="2.9" height="3.4" fill="#fff" stroke="#4c7efa" stroke-width="0.9"/>
<line x1="575.70" y1="363.4" x2="575.70" y2="375.8" stroke="#6a92fb" stroke-width="1.1"/>
<line x1="575.70" y1="383.5" x2="575.70" y2="387.4" stroke="#6a92fb" stroke-width="1.1"/>
<rect x="573.85" y="375.8" width="3.7" height="7.7" fill="#1846c6"/>
<line x1="580.27" y1="377.1" x2="580.27" y2="383.0" stroke="#6a92fb" stroke-width="1.1"/>
<line x1="580.27" y1="390.0" x2="580.27" y2="405.4" stroke="#6a92fb" stroke-width="1.1"/>
<rect x="578.42" y="383.0" width="3.7" height="7.1" fill="#1846c6"/>
<line x1="584.83" y1="369.9" x2="584.83" y2="372.2" stroke="#6a92fb" stroke-width="1.1"/>
<line x1="584.83" y1="390.0" x2="584.83" y2="397.1" stroke="#6a92fb" stroke-width="1.1"/>
<rect x="583.38" y="372.6" width="2.9" height="17.0" fill="#fff" stroke="#4c7efa" stroke-width="0.9"/>
<line x1="589.40" y1="354.9" x2="589.40" y2="370.8" stroke="#2a439c" stroke-width="1.1"/>
<line x1="589.40" y1="383.5" x2="589.40" y2="394.8" stroke="#2a439c" stroke-width="1.1"/>
<rect x="587.55" y="370.8" width="3.7" height="12.7" fill="#1846c6"/>
<line x1="593.96" y1="372.2" x2="593.96" y2="374.4" stroke="#7787bd" stroke-width="1.1"/>
<line x1="593.96" y1="382.4" x2="593.96" y2="392.7" stroke="#7787bd" stroke-width="1.1"/>
<rect x="592.51" y="374.8" width="2.9" height="7.3" fill="#fff" stroke="#4c7efa" stroke-width="0.9"/>
<line x1="598.53" y1="342.9" x2="598.53" y2="352.2" stroke="#2a439c" stroke-width="1.1"/>
<rect x="597.08" y="352.6" width="2.9" height="19.5" fill="#fff" stroke="#4c7efa" stroke-width="0.9"/>
<line x1="603.10" y1="442.7" x2="603.10" y2="486.4" stroke="#2a439c" stroke-width="1.1"/>
<rect x="601.65" y="410.8" width="2.9" height="31.6" fill="#fff" stroke="#4c7efa" stroke-width="0.9"/>
<line x1="607.66" y1="408.6" x2="607.66" y2="410.0" stroke="#1846c6" stroke-width="1.1"/>
<line x1="607.66" y1="433.4" x2="607.66" y2="436.0" stroke="#1846c6" stroke-width="1.1"/>
<rect x="605.81" y="410.0" width="3.7" height="23.3" fill="#1846c6"/>
<line x1="612.23" y1="435.7" x2="612.23" y2="473.2" stroke="#2a439c" stroke-width="1.1"/>
<rect x="610.38" y="435.1" width="3.7" height="1.3" fill="#1846c6"/>
<line x1="616.79" y1="426.3" x2="616.79" y2="436.9" stroke="#6a92fb" stroke-width="1.1"/>
<line x1="616.79" y1="441.9" x2="616.79" y2="472.3" stroke="#6a92fb" stroke-width="1.1"/>
<rect x="614.94" y="436.9" width="3.7" height="5.0" fill="#1846c6"/>
<line x1="621.36" y1="424.9" x2="621.36" y2="435.1" stroke="#7787bd" stroke-width="1.1"/>
<line x1="621.36" y1="439.6" x2="621.36" y2="448.4" stroke="#7787bd" stroke-width="1.1"/>
<rect x="619.91" y="435.5" width="2.9" height="3.6" fill="#fff" stroke="#4c7efa" stroke-width="0.9"/>
<line x1="625.93" y1="416.4" x2="625.93" y2="426.7" stroke="#7787bd" stroke-width="1.1"/>
<line x1="625.93" y1="433.4" x2="625.93" y2="436.9" stroke="#7787bd" stroke-width="1.1"/>
<rect x="624.48" y="427.1" width="2.9" height="5.9" fill="#fff" stroke="#4c7efa" stroke-width="0.9"/>
<line x1="630.49" y1="401.0" x2="630.49" y2="406.9" stroke="#2a439c" stroke-width="1.1"/>
<line x1="630.49" y1="427.0" x2="630.49" y2="428.4" stroke="#2a439c" stroke-width="1.1"/>
<rect x="629.04" y="407.3" width="2.9" height="19.4" fill="#fff" stroke="#4c7efa" stroke-width="0.9"/>
<line x1="635.06" y1="394.8" x2="635.06" y2="404.6" stroke="#2a439c" stroke-width="1.1"/>
<line x1="635.06" y1="408.6" x2="635.06" y2="410.4" stroke="#2a439c" stroke-width="1.1"/>
<rect x="633.61" y="405.0" width="2.9" height="3.3" fill="#fff" stroke="#4c7efa" stroke-width="0.9"/>
<line x1="639.62" y1="387.4" x2="639.62" y2="388.1" stroke="#6a92fb" stroke-width="1.1"/>
<line x1="639.62" y1="404.6" x2="639.62" y2="405.8" stroke="#6a92fb" stroke-width="1.1"/>
<rect x="638.17" y="388.5" width="2.9" height="15.6" fill="#fff" stroke="#4c7efa" stroke-width="0.9"/>
<line x1="644.19" y1="370.4" x2="644.19" y2="374.8" stroke="#7787bd" stroke-width="1.1"/>
<line x1="644.19" y1="387.8" x2="644.19" y2="402.8" stroke="#7787bd" stroke-width="1.1"/>
<rect x="642.74" y="375.2" width="2.9" height="12.1" fill="#fff" stroke="#4c7efa" stroke-width="0.9"/>
<line x1="648.76" y1="329.9" x2="648.76" y2="339.3" stroke="#2a439c" stroke-width="1.1"/>
<line x1="648.76" y1="374.1" x2="648.76" y2="415.2" stroke="#2a439c" stroke-width="1.1"/>
<rect x="647.31" y="339.7" width="2.9" height="34.0" fill="#fff" stroke="#4c7efa" stroke-width="0.9"/>
<line x1="653.32" y1="316.3" x2="653.32" y2="320.6" stroke="#7787bd" stroke-width="1.1"/>
<line x1="653.32" y1="339.3" x2="653.32" y2="358.6" stroke="#7787bd" stroke-width="1.1"/>
<rect x="651.87" y="321.0" width="2.9" height="17.9" fill="#fff" stroke="#4c7efa" stroke-width="0.9"/>
<line x1="657.89" y1="316.7" x2="657.89" y2="319.3" stroke="#6a92fb" stroke-width="1.1"/>
<line x1="657.89" y1="335.2" x2="657.89" y2="338.2" stroke="#6a92fb" stroke-width="1.1"/>
<rect x="656.04" y="319.3" width="3.7" height="15.9" fill="#1846c6"/>
<line x1="662.45" y1="322.9" x2="662.45" y2="332.2" stroke="#6a92fb" stroke-width="1.1"/>
<line x1="662.45" y1="333.1" x2="662.45" y2="342.3" stroke="#6a92fb" stroke-width="1.1"/>
<rect x="660.60" y="332.2" width="3.7" height="1.3" fill="#1846c6"/>
<line x1="667.02" y1="302.9" x2="667.02" y2="317.2" stroke="#2a439c" stroke-width="1.1"/>
<line x1="667.02" y1="332.2" x2="667.02" y2="343.2" stroke="#2a439c" stroke-width="1.1"/>
<rect x="665.57" y="317.6" width="2.9" height="14.2" fill="#fff" stroke="#4c7efa" stroke-width="0.9"/>
<line x1="671.59" y1="276.0" x2="671.59" y2="307.5" stroke="#2a439c" stroke-width="1.1"/>
<line x1="671.59" y1="318.4" x2="671.59" y2="332.6" stroke="#2a439c" stroke-width="1.1"/>
<rect x="670.14" y="307.9" width="2.9" height="10.2" fill="#fff" stroke="#4c7efa" stroke-width="0.9"/>
<line x1="676.15" y1="257.4" x2="676.15" y2="280.9" stroke="#7787bd" stroke-width="1.1"/>
<line x1="676.15" y1="307.5" x2="676.15" y2="327.3" stroke="#7787bd" stroke-width="1.1"/>
<rect x="674.70" y="281.3" width="2.9" height="25.7" fill="#fff" stroke="#4c7efa" stroke-width="0.9"/>
<line x1="680.72" y1="274.2" x2="680.72" y2="278.6" stroke="#7787bd" stroke-width="1.1"/>
<line x1="680.72" y1="282.2" x2="680.72" y2="305.2" stroke="#7787bd" stroke-width="1.1"/>
<rect x="679.27" y="279.0" width="2.9" height="2.7" fill="#fff" stroke="#4c7efa" stroke-width="0.9"/>
<line x1="685.28" y1="229.1" x2="685.28" y2="259.2" stroke="#2a439c" stroke-width="1.1"/>
<line x1="685.28" y1="279.2" x2="685.28" y2="314.5" stroke="#2a439c" stroke-width="1.1"/>
<rect x="683.83" y="259.6" width="2.9" height="19.2" fill="#fff" stroke="#4c7efa" stroke-width="0.9"/>
<line x1="689.85" y1="256.5" x2="689.85" y2="259.2" stroke="#6a92fb" stroke-width="1.1"/>
<line x1="689.85" y1="279.2" x2="689.85" y2="287.5" stroke="#6a92fb" stroke-width="1.1"/>
<rect x="688.00" y="259.2" width="3.7" height="20.0" fill="#1846c6"/>
<line x1="694.42" y1="202.5" x2="694.42" y2="227.3" stroke="#2a439c" stroke-width="1.1"/>
<line x1="694.42" y1="278.6" x2="694.42" y2="296.9" stroke="#2a439c" stroke-width="1.1"/>
<rect x="692.97" y="227.7" width="2.9" height="50.5" fill="#fff" stroke="#4c7efa" stroke-width="0.9"/>
<line x1="698.98" y1="221.1" x2="698.98" y2="227.3" stroke="#6a92fb" stroke-width="1.1"/>
<rect x="697.13" y="227.3" width="3.7" height="9.8" fill="#1846c6"/>
<line x1="703.55" y1="224.7" x2="703.55" y2="235.0" stroke="#6a92fb" stroke-width="1.1"/>
<rect x="701.70" y="235.0" width="3.7" height="7.8" fill="#1846c6"/>
<rect x="706.66" y="238.9" width="2.9" height="3.4" fill="#fff" stroke="#4c7efa" stroke-width="0.9"/>
<line x1="712.68" y1="270.7" x2="712.68" y2="274.2" stroke="#6a92fb" stroke-width="1.1"/>
<rect x="710.83" y="248.6" width="3.7" height="22.1" fill="#1846c6"/>
<line x1="717.25" y1="267.1" x2="717.25" y2="271.2" stroke="#7787bd" stroke-width="1.1"/>
<line x1="717.25" y1="271.9" x2="717.25" y2="296.9" stroke="#7787bd" stroke-width="1.1"/>
<line x1="715.45" y1="271.6" x2="719.05" y2="271.6" stroke="#4c7efa" stroke-width="1"/>
<line x1="721.81" y1="264.5" x2="721.81" y2="265.4" stroke="#7787bd" stroke-width="1.1"/>
<line x1="721.81" y1="270.7" x2="721.81" y2="285.7" stroke="#7787bd" stroke-width="1.1"/>
<rect x="720.36" y="265.8" width="2.9" height="4.5" fill="#fff" stroke="#4c7efa" stroke-width="0.9"/>
<line x1="726.38" y1="259.2" x2="726.38" y2="266.3" stroke="#6a92fb" stroke-width="1.1"/>
<line x1="726.38" y1="268.0" x2="726.38" y2="269.8" stroke="#6a92fb" stroke-width="1.1"/>
<rect x="724.53" y="266.3" width="3.7" height="1.8" fill="#1846c6"/>
<rect x="729.09" y="268.0" width="3.7" height="6.2" fill="#1846c6"/>
<line x1="735.51" y1="250.3" x2="735.51" y2="260.4" stroke="#2a439c" stroke-width="1.1"/>
<line x1="735.51" y1="274.2" x2="735.51" y2="281.3" stroke="#2a439c" stroke-width="1.1"/>
<rect x="734.06" y="260.8" width="2.9" height="13.0" fill="#fff" stroke="#4c7efa" stroke-width="0.9"/>
<line x1="740.08" y1="251.6" x2="740.08" y2="259.2" stroke="#6a92fb" stroke-width="1.1"/>
<rect x="738.23" y="259.2" width="3.7" height="20.0" fill="#1846c6"/>
<line x1="744.64" y1="237.1" x2="744.64" y2="274.6" stroke="#7787bd" stroke-width="1.1"/>
<rect x="743.19" y="275.0" width="2.9" height="3.8" fill="#fff" stroke="#4c7efa" stroke-width="0.9"/>
<line x1="749.21" y1="260.1" x2="749.21" y2="273.9" stroke="#6a92fb" stroke-width="1.1"/>
<line x1="749.21" y1="283.4" x2="749.21" y2="289.3" stroke="#6a92fb" stroke-width="1.1"/>
<rect x="747.36" y="273.9" width="3.7" height="9.6" fill="#1846c6"/>
<line x1="753.77" y1="256.2" x2="753.77" y2="281.3" stroke="#2a439c" stroke-width="1.1"/>
<line x1="753.77" y1="283.9" x2="753.77" y2="289.3" stroke="#2a439c" stroke-width="1.1"/>
<rect x="751.92" y="281.3" width="3.7" height="2.7" fill="#1846c6"/>
<line x1="758.34" y1="240.3" x2="758.34" y2="243.3" stroke="#6a92fb" stroke-width="1.1"/>
<rect x="756.89" y="243.7" width="2.9" height="40.4" fill="#fff" stroke="#4c7efa" stroke-width="0.9"/>
<line x1="762.91" y1="233.2" x2="762.91" y2="242.4" stroke="#2a439c" stroke-width="1.1"/>
<line x1="762.91" y1="245.0" x2="762.91" y2="252.1" stroke="#2a439c" stroke-width="1.1"/>
<rect x="761.46" y="242.8" width="2.9" height="1.9" fill="#fff" stroke="#4c7efa" stroke-width="0.9"/>
<line x1="767.47" y1="225.0" x2="767.47" y2="233.2" stroke="#2a439c" stroke-width="1.1"/>
<line x1="767.47" y1="242.7" x2="767.47" y2="253.9" stroke="#2a439c" stroke-width="1.1"/>
<rect x="766.02" y="233.6" width="2.9" height="8.8" fill="#fff" stroke="#4c7efa" stroke-width="0.9"/>
<line x1="772.04" y1="228.2" x2="772.04" y2="231.8" stroke="#6a92fb" stroke-width="1.1"/>
<line x1="772.04" y1="242.7" x2="772.04" y2="265.4" stroke="#6a92fb" stroke-width="1.1"/>
<rect x="770.19" y="231.8" width="3.7" height="11.0" fill="#1846c6"/>
<line x1="776.60" y1="200.8" x2="776.60" y2="207.0" stroke="#7787bd" stroke-width="1.1"/>
<line x1="776.60" y1="241.5" x2="776.60" y2="268.9" stroke="#7787bd" stroke-width="1.1"/>
<rect x="775.15" y="207.4" width="2.9" height="33.7" fill="#fff" stroke="#4c7efa" stroke-width="0.9"/>
<line x1="781.17" y1="168.9" x2="781.17" y2="175.5" stroke="#2a439c" stroke-width="1.1"/>
<line x1="781.17" y1="207.3" x2="781.17" y2="216.7" stroke="#2a439c" stroke-width="1.1"/>
<rect x="779.72" y="175.9" width="2.9" height="31.0" fill="#fff" stroke="#4c7efa" stroke-width="0.9"/>
<line x1="785.74" y1="145.1" x2="785.74" y2="148.6" stroke="#2a439c" stroke-width="1.1"/>
<line x1="785.74" y1="175.5" x2="785.74" y2="186.6" stroke="#2a439c" stroke-width="1.1"/>
<rect x="784.29" y="149.0" width="2.9" height="26.1" fill="#fff" stroke="#4c7efa" stroke-width="0.9"/>
<line x1="790.30" y1="125.3" x2="790.30" y2="147.2" stroke="#6a92fb" stroke-width="1.1"/>
<line x1="790.30" y1="156.6" x2="790.30" y2="164.5" stroke="#6a92fb" stroke-width="1.1"/>
<rect x="788.45" y="147.2" width="3.7" height="9.4" fill="#1846c6"/>
<line x1="794.87" y1="176.0" x2="794.87" y2="186.6" stroke="#6a92fb" stroke-width="1.1"/>
<rect x="793.02" y="158.3" width="3.7" height="17.7" fill="#1846c6"/>
<line x1="799.43" y1="165.4" x2="799.43" y2="176.0" stroke="#6a92fb" stroke-width="1.1"/>
<line x1="799.43" y1="185.4" x2="799.43" y2="186.6" stroke="#6a92fb" stroke-width="1.1"/>
<rect x="797.58" y="176.0" width="3.7" height="9.4" fill="#1846c6"/>
<line x1="804.00" y1="176.0" x2="804.00" y2="182.6" stroke="#6a92fb" stroke-width="1.1"/>
<line x1="804.00" y1="196.7" x2="804.00" y2="201.7" stroke="#6a92fb" stroke-width="1.1"/>
<rect x="802.15" y="182.6" width="3.7" height="14.1" fill="#1846c6"/>
<line x1="808.57" y1="196.4" x2="808.57" y2="199.5" stroke="#6a92fb" stroke-width="1.1"/>
<rect x="807.12" y="194.1" width="2.9" height="1.9" fill="#fff" stroke="#4c7efa" stroke-width="0.9"/>
<line x1="813.13" y1="192.8" x2="813.13" y2="195.5" stroke="#2a439c" stroke-width="1.1"/>
<line x1="813.13" y1="205.2" x2="813.13" y2="211.4" stroke="#2a439c" stroke-width="1.1"/>
<rect x="811.68" y="195.9" width="2.9" height="8.9" fill="#fff" stroke="#4c7efa" stroke-width="0.9"/>
<line x1="817.70" y1="191.9" x2="817.70" y2="194.2" stroke="#6a92fb" stroke-width="1.1"/>
<line x1="817.70" y1="196.4" x2="817.70" y2="207.3" stroke="#6a92fb" stroke-width="1.1"/>
<rect x="815.85" y="194.2" width="3.7" height="2.1" fill="#1846c6"/>
<line x1="822.26" y1="191.4" x2="822.26" y2="197.8" stroke="#6a92fb" stroke-width="1.1"/>
<line x1="822.26" y1="200.2" x2="822.26" y2="202.5" stroke="#6a92fb" stroke-width="1.1"/>
<rect x="820.41" y="197.8" width="3.7" height="2.5" fill="#1846c6"/>
<rect x="825.38" y="187.9" width="2.9" height="11.9" fill="#fff" stroke="#4c7efa" stroke-width="0.9"/>
<line x1="831.40" y1="187.2" x2="831.40" y2="189.3" stroke="#6a92fb" stroke-width="1.1"/>
<rect x="829.55" y="189.3" width="3.7" height="8.5" fill="#1846c6"/>
<line x1="835.96" y1="195.5" x2="835.96" y2="199.9" stroke="#6a92fb" stroke-width="1.1"/>
<line x1="835.96" y1="200.6" x2="835.96" y2="206.6" stroke="#6a92fb" stroke-width="1.1"/>
<line x1="834.16" y1="200.2" x2="837.76" y2="200.2" stroke="#4c7efa" stroke-width="1"/>
<line x1="840.53" y1="186.1" x2="840.53" y2="190.2" stroke="#2a439c" stroke-width="1.1"/>
<line x1="840.53" y1="200.2" x2="840.53" y2="206.6" stroke="#2a439c" stroke-width="1.1"/>
<rect x="839.08" y="190.6" width="2.9" height="9.3" fill="#fff" stroke="#4c7efa" stroke-width="0.9"/>
<line x1="845.09" y1="144.2" x2="845.09" y2="147.2" stroke="#6a92fb" stroke-width="1.1"/>
<rect x="843.64" y="147.6" width="2.9" height="41.3" fill="#fff" stroke="#4c7efa" stroke-width="0.9"/>
<line x1="849.66" y1="122.1" x2="849.66" y2="124.2" stroke="#6a92fb" stroke-width="1.1"/>
<line x1="849.66" y1="148.6" x2="849.66" y2="151.3" stroke="#6a92fb" stroke-width="1.1"/>
<rect x="848.21" y="124.6" width="2.9" height="23.6" fill="#fff" stroke="#4c7efa" stroke-width="0.9"/>
<line x1="854.23" y1="153.6" x2="854.23" y2="161.9" stroke="#6a92fb" stroke-width="1.1"/>
<rect x="852.38" y="124.2" width="3.7" height="29.4" fill="#1846c6"/>
<line x1="858.79" y1="148.6" x2="858.79" y2="153.0" stroke="#6a92fb" stroke-width="1.1"/>
<line x1="858.79" y1="166.6" x2="858.79" y2="175.1" stroke="#6a92fb" stroke-width="1.1"/>
<rect x="856.94" y="153.0" width="3.7" height="13.6" fill="#1846c6"/>
<line x1="863.36" y1="156.6" x2="863.36" y2="161.9" stroke="#7787bd" stroke-width="1.1"/>
<line x1="863.36" y1="164.5" x2="863.36" y2="175.1" stroke="#7787bd" stroke-width="1.1"/>
<rect x="861.91" y="162.3" width="2.9" height="1.9" fill="#fff" stroke="#4c7efa" stroke-width="0.9"/>
<line x1="867.92" y1="150.4" x2="867.92" y2="161.9" stroke="#6a92fb" stroke-width="1.1"/>
<line x1="867.92" y1="177.8" x2="867.92" y2="192.8" stroke="#6a92fb" stroke-width="1.1"/>
<rect x="866.07" y="161.9" width="3.7" height="15.9" fill="#1846c6"/>
<line x1="872.49" y1="217.6" x2="872.49" y2="236.5" stroke="#6a92fb" stroke-width="1.1"/>
<rect x="870.64" y="177.8" width="3.7" height="39.8" fill="#1846c6"/>
<line x1="877.06" y1="171.2" x2="877.06" y2="180.1" stroke="#2a439c" stroke-width="1.1"/>
<line x1="877.06" y1="217.6" x2="877.06" y2="234.4" stroke="#2a439c" stroke-width="1.1"/>
<rect x="875.61" y="180.5" width="2.9" height="36.7" fill="#fff" stroke="#4c7efa" stroke-width="0.9"/>
<line x1="881.62" y1="146.5" x2="881.62" y2="150.7" stroke="#2a439c" stroke-width="1.1"/>
<line x1="881.62" y1="180.4" x2="881.62" y2="185.7" stroke="#2a439c" stroke-width="1.1"/>
<rect x="880.17" y="151.1" width="2.9" height="28.9" fill="#fff" stroke="#4c7efa" stroke-width="0.9"/>
<line x1="886.19" y1="138.0" x2="886.19" y2="145.4" stroke="#2a439c" stroke-width="1.1"/>
<line x1="886.19" y1="149.0" x2="886.19" y2="177.8" stroke="#2a439c" stroke-width="1.1"/>
<rect x="884.74" y="145.8" width="2.9" height="2.7" fill="#fff" stroke="#4c7efa" stroke-width="0.9"/>
<line x1="890.75" y1="132.7" x2="890.75" y2="142.9" stroke="#6a92fb" stroke-width="1.1"/>
<line x1="890.75" y1="150.7" x2="890.75" y2="160.6" stroke="#6a92fb" stroke-width="1.1"/>
<rect x="888.90" y="142.9" width="3.7" height="7.8" fill="#1846c6"/>
<line x1="895.32" y1="184.9" x2="895.32" y2="187.2" stroke="#6a92fb" stroke-width="1.1"/>
<rect x="893.47" y="151.3" width="3.7" height="33.6" fill="#1846c6"/>
<line x1="899.89" y1="178.3" x2="899.89" y2="184.0" stroke="#6a92fb" stroke-width="1.1"/>
<line x1="899.89" y1="185.0" x2="899.89" y2="190.7" stroke="#6a92fb" stroke-width="1.1"/>
<rect x="898.04" y="184.0" width="3.7" height="1.3" fill="#1846c6"/>
<line x1="904.45" y1="180.1" x2="904.45" y2="182.2" stroke="#6a92fb" stroke-width="1.1"/>
<line x1="904.45" y1="184.0" x2="904.45" y2="187.2" stroke="#6a92fb" stroke-width="1.1"/>
<rect x="903.00" y="182.6" width="2.9" height="1.0" fill="#fff" stroke="#4c7efa" stroke-width="0.9"/>
<line x1="909.02" y1="176.0" x2="909.02" y2="177.3" stroke="#6a92fb" stroke-width="1.1"/>
<rect x="907.57" y="177.7" width="2.9" height="5.0" fill="#fff" stroke="#4c7efa" stroke-width="0.9"/>
<line x1="913.58" y1="199.9" x2="913.58" y2="205.2" stroke="#6a92fb" stroke-width="1.1"/>
<rect x="911.73" y="190.2" width="3.7" height="9.7" fill="#1846c6"/>
<line x1="918.15" y1="173.4" x2="918.15" y2="186.6" stroke="#2a439c" stroke-width="1.1"/>
<rect x="916.70" y="187.0" width="2.9" height="10.7" fill="#fff" stroke="#4c7efa" stroke-width="0.9"/>
<line x1="922.72" y1="174.3" x2="922.72" y2="177.8" stroke="#6a92fb" stroke-width="1.1"/>
<rect x="921.27" y="178.2" width="2.9" height="8.0" fill="#fff" stroke="#4c7efa" stroke-width="0.9"/>
<line x1="927.28" y1="174.3" x2="927.28" y2="176.0" stroke="#6a92fb" stroke-width="1.1"/>
<line x1="927.28" y1="178.7" x2="927.28" y2="183.6" stroke="#6a92fb" stroke-width="1.1"/>
<rect x="925.43" y="176.0" width="3.7" height="2.7" fill="#1846c6"/>
<line x1="931.85" y1="160.6" x2="931.85" y2="162.8" stroke="#6a92fb" stroke-width="1.1"/>
<line x1="931.85" y1="180.4" x2="931.85" y2="181.3" stroke="#6a92fb" stroke-width="1.1"/>
<rect x="930.40" y="163.2" width="2.9" height="16.9" fill="#fff" stroke="#4c7efa" stroke-width="0.9"/>
<line x1="936.41" y1="160.6" x2="936.41" y2="162.8" stroke="#6a92fb" stroke-width="1.1"/>
<line x1="936.41" y1="171.6" x2="936.41" y2="173.0" stroke="#6a92fb" stroke-width="1.1"/>
<rect x="934.56" y="162.8" width="3.7" height="8.8" fill="#1846c6"/>
<line x1="940.98" y1="153.0" x2="940.98" y2="170.4" stroke="#2a439c" stroke-width="1.1"/>
<line x1="940.98" y1="171.1" x2="940.98" y2="182.6" stroke="#2a439c" stroke-width="1.1"/>
<line x1="939.18" y1="170.7" x2="942.78" y2="170.7" stroke="#4c7efa" stroke-width="1"/>
<line x1="945.55" y1="160.1" x2="945.55" y2="171.2" stroke="#6a92fb" stroke-width="1.1"/>
<line x1="945.55" y1="182.6" x2="945.55" y2="190.7" stroke="#6a92fb" stroke-width="1.1"/>
<rect x="943.70" y="171.2" width="3.7" height="11.3" fill="#1846c6"/>
<line x1="950.11" y1="166.3" x2="950.11" y2="182.2" stroke="#6a92fb" stroke-width="1.1"/>
<line x1="950.11" y1="202.0" x2="950.11" y2="214.9" stroke="#6a92fb" stroke-width="1.1"/>
<rect x="948.26" y="182.2" width="3.7" height="19.8" fill="#1846c6"/>
<line x1="954.68" y1="187.2" x2="954.68" y2="200.2" stroke="#6a92fb" stroke-width="1.1"/>
<line x1="954.68" y1="202.5" x2="954.68" y2="206.6" stroke="#6a92fb" stroke-width="1.1"/>
<rect x="952.83" y="200.2" width="3.7" height="2.3" fill="#1846c6"/>
<line x1="959.24" y1="187.2" x2="959.24" y2="195.5" stroke="#7787bd" stroke-width="1.1"/>
<line x1="959.24" y1="200.8" x2="959.24" y2="208.7" stroke="#7787bd" stroke-width="1.1"/>
<rect x="957.79" y="195.9" width="2.9" height="4.5" fill="#fff" stroke="#4c7efa" stroke-width="0.9"/>
<line x1="963.81" y1="146.5" x2="963.81" y2="195.5" stroke="#6a92fb" stroke-width="1.1"/>
<line x1="963.81" y1="247.7" x2="963.81" y2="263.9" stroke="#6a92fb" stroke-width="1.1"/>
<rect x="961.96" y="195.5" width="3.7" height="52.2" fill="#1846c6"/>
<line x1="968.38" y1="215.3" x2="968.38" y2="229.1" stroke="#2a439c" stroke-width="1.1"/>
<line x1="968.38" y1="247.7" x2="968.38" y2="248.6" stroke="#2a439c" stroke-width="1.1"/>
<rect x="966.93" y="229.5" width="2.9" height="17.8" fill="#fff" stroke="#4c7efa" stroke-width="0.9"/>
<line x1="972.94" y1="220.3" x2="972.94" y2="227.3" stroke="#6a92fb" stroke-width="1.1"/>
<line x1="972.94" y1="309.9" x2="972.94" y2="334.8" stroke="#6a92fb" stroke-width="1.1"/>
<rect x="971.09" y="227.3" width="3.7" height="82.6" fill="#1846c6"/>
<line x1="977.51" y1="265.2" x2="977.51" y2="294.0" stroke="#2a439c" stroke-width="1.1"/>
<line x1="977.51" y1="309.9" x2="977.51" y2="311.2" stroke="#2a439c" stroke-width="1.1"/>
<rect x="976.06" y="294.4" width="2.9" height="15.1" fill="#fff" stroke="#4c7efa" stroke-width="0.9"/>
<line x1="982.07" y1="286.2" x2="982.07" y2="294.5" stroke="#6a92fb" stroke-width="1.1"/>
<line x1="982.07" y1="335.4" x2="982.07" y2="343.7" stroke="#6a92fb" stroke-width="1.1"/>
<rect x="980.22" y="294.5" width="3.7" height="40.9" fill="#1846c6"/>
<line x1="986.64" y1="299.1" x2="986.64" y2="321.6" stroke="#2a439c" stroke-width="1.1"/>
<rect x="985.19" y="322.0" width="2.9" height="13.0" fill="#fff" stroke="#4c7efa" stroke-width="0.9"/>
<line x1="991.21" y1="312.2" x2="991.21" y2="321.6" stroke="#6a92fb" stroke-width="1.1"/>
<line x1="991.21" y1="328.1" x2="991.21" y2="338.0" stroke="#6a92fb" stroke-width="1.1"/>
<rect x="989.36" y="321.6" width="3.7" height="6.5" fill="#1846c6"/>
<line x1="995.77" y1="300.9" x2="995.77" y2="313.3" stroke="#7787bd" stroke-width="1.1"/>
<line x1="995.77" y1="328.1" x2="995.77" y2="348.1" stroke="#7787bd" stroke-width="1.1"/>
<rect x="994.32" y="313.7" width="2.9" height="14.1" fill="#fff" stroke="#4c7efa" stroke-width="0.9"/>
<line x1="1000.34" y1="307.4" x2="1000.34" y2="309.2" stroke="#6a92fb" stroke-width="1.1"/>
<line x1="1000.34" y1="314.5" x2="1000.34" y2="316.8" stroke="#6a92fb" stroke-width="1.1"/>
<rect x="998.89" y="309.6" width="2.9" height="4.5" fill="#fff" stroke="#4c7efa" stroke-width="0.9"/>
<line x1="1004.90" y1="316.8" x2="1004.90" y2="320.3" stroke="#6a92fb" stroke-width="1.1"/>
<rect x="1003.05" y="309.2" width="3.7" height="7.6" fill="#1846c6"/>
<line x1="1009.47" y1="315.4" x2="1009.47" y2="318.9" stroke="#6a92fb" stroke-width="1.1"/>
<rect x="1008.02" y="313.7" width="2.9" height="1.3" fill="#fff" stroke="#4c7efa" stroke-width="0.9"/>
<line x1="1014.04" y1="307.9" x2="1014.04" y2="316.8" stroke="#2a439c" stroke-width="1.1"/>
<line x1="1014.04" y1="317.5" x2="1014.04" y2="325.6" stroke="#2a439c" stroke-width="1.1"/>
<line x1="1012.24" y1="317.1" x2="1015.84" y2="317.1" stroke="#4c7efa" stroke-width="1"/>
<path d="M126.6 491.5 L128.2 489 L129.8 491.5Z" fill="#a9b9f3"/>
<path d="M1021.4 324.2 L1028.4 323.6 L1033.2 360.6 L1040.8 359.4 L1032.4 381.4 L1019.6 362.4 L1026.3 361.5 Z" fill="#ec1313" style="filter:drop-shadow(0.5px 0.5px 0.8px rgba(60,60,60,.35))"/>
<text x="7.5" y="294.5" class="lb" font-size="17" text-anchor="start" textLength="24" lengthAdjust="spacing">(4)</text>
<text x="419" y="222.7" class="lb" font-size="18.5" text-anchor="start">A</text>
<text x="419.3" y="269.8" class="lb" font-size="17" text-anchor="start">c</text>
<text x="258.3" y="453" class="lb" font-size="17" text-anchor="start">a</text>
<text x="373.2" y="534.7" class="lb" font-size="17" text-anchor="start">b</text>
<text x="168.5" y="586.5" class="lb" font-size="18" text-anchor="start" textLength="47" lengthAdjust="spacing">66.34</text>
<text x="264" y="612" class="lb" font-size="17" text-anchor="start" textLength="24" lengthAdjust="spacing">(5)</text>
<text x="610" y="513.2" class="lb" font-size="17.5" text-anchor="start">B</text>
<text x="678.8" y="208.8" class="lb" font-size="17" text-anchor="start">i</text>
<text x="766" y="312.3" class="lb" font-size="17" text-anchor="start" textLength="9.5" lengthAdjust="spacing">ii</text>
<text x="761.8" y="112.8" class="lb" font-size="17" text-anchor="start" textLength="15" lengthAdjust="spacing">iii</text>
<text x="820.3" y="234.5" class="lb" font-size="17" text-anchor="start" textLength="14" lengthAdjust="spacing">iv</text>
<text x="834.5" y="99.8" class="lb" font-size="17" text-anchor="start">v</text>
<text x="857" y="92" class="lb" font-size="18" text-anchor="start">C</text>
<text x="884.5" y="107" class="lb" font-size="18" text-anchor="start" textLength="46" lengthAdjust="spacing">70.71</text>
<text x="738.5" y="517.2" class="lb" font-size="17" text-anchor="start" textLength="375.5" lengthAdjust="spacing">Brent oil &lt;LCOc1&gt; may extend loss to $68.32</text>
<text x="738.5" y="534.6" class="lb" font-size="17" text-anchor="start" textLength="372.5" lengthAdjust="spacing">per barrel, as suggested by a rising trendline</text>
<text x="738.5" y="552" class="lb" font-size="17" text-anchor="start" textLength="212.5" lengthAdjust="spacing">and a projection analysis.</text>
</svg>
<div id="leftb"></div>
<div id="wm">1QH.CN</div>
<div id="pax"></div>
<div id="tax"></div>
<div class="pl" style="top:85px">71.00</div>
<div class="pl" style="top:137px">70.50</div>
<div class="pl" style="top:190px">70.00</div>
<div class="pl" style="top:242px">69.50</div>
<div class="pl" style="top:294px">69.00</div>
<div class="pl" style="top:310px;color:#333">68.85</div>
<div class="pl" style="top:346px">68.50</div>
<div class="pl" style="top:398px">68.00</div>
<div class="pl" style="top:451px">67.50</div>
<div class="pl" style="top:503px">67.00</div>
<div class="pl" style="top:555px">66.50</div>
<div class="pl" style="top:607px">66.00</div>

<div id="unit"><div style="position:absolute;left:2px;top:4px;letter-spacing:-0.2px">USD</div><div style="position:absolute;left:2px;top:25px">bbl</div>
<svg width="38" height="40" style="position:absolute;left:0;top:0" fill="none" stroke="#333" stroke-width="1.2"><path d="M29.300 10l2.300 2 2.300-2"/><path d="M29.300 31.300l2.300 2 2.300-2"/></svg></div>
<div class="tag" style="top:119px;height:19px;line-height:19px;background:#151515;border-radius:2px">70.65</div>
<div class="tag" style="top:354px;height:15px;line-height:15px;background:#2962ff;font-weight:normal">68.42</div>
<div class="tag" style="top:570.5px;height:15px;line-height:15px;background:#2962ff;font-weight:normal">66.35</div>
<div style="position:absolute;left:0;top:0;width:1312px;height:650px;overflow:hidden"><div class="tl" style="left:2px">27</div>
<div class="tl" style="left:102px">29</div>
<div class="tl" style="left:198px;font-weight:bold;color:#333">Jul</div>
<div class="tl" style="left:299px">2</div>
<div class="tl" style="left:401px">3</div>
<div class="tl" style="left:501px">4</div>
<div class="tl" style="left:582px">6</div>
<div class="tl" style="left:793px">9</div>
<div class="tl" style="left:893px">10</div>
<div class="tl" style="left:993px">11</div>
<div class="tl" style="left:1094px">14</div>
<div class="tl" style="left:1203px">15</div>
<div class="tl" style="left:1282.5px">18:00</div>
</div>
<div style="position:absolute;left:618.700px;top:627px;width:96.600px;height:21.300px;background:#151515;border-radius:0 0 2px 2px"></div>
<svg width="100" height="22" style="position:absolute;left:618px;top:627px"><text x="8" y="16" textLength="81" lengthAdjust="spacingAndGlyphs" xml:space="preserve" style="font-family:'Liberation Sans',sans-serif;font-weight:bold;font-size:11px;fill:#fff;white-space:pre">07 Jul '25   13:00</text></svg>
<svg width="46" height="23" style="position:absolute;left:1316.1px;top:627.7px" fill="none" stroke="#222" stroke-width="1.1"><path d="M17.100 6.900h5.800l2.900 4.900-2.900 4.900h-5.800l-2.900-4.900z"/><circle cx="20" cy="11.800" r="1.600"/></svg>
</div></body></html>
